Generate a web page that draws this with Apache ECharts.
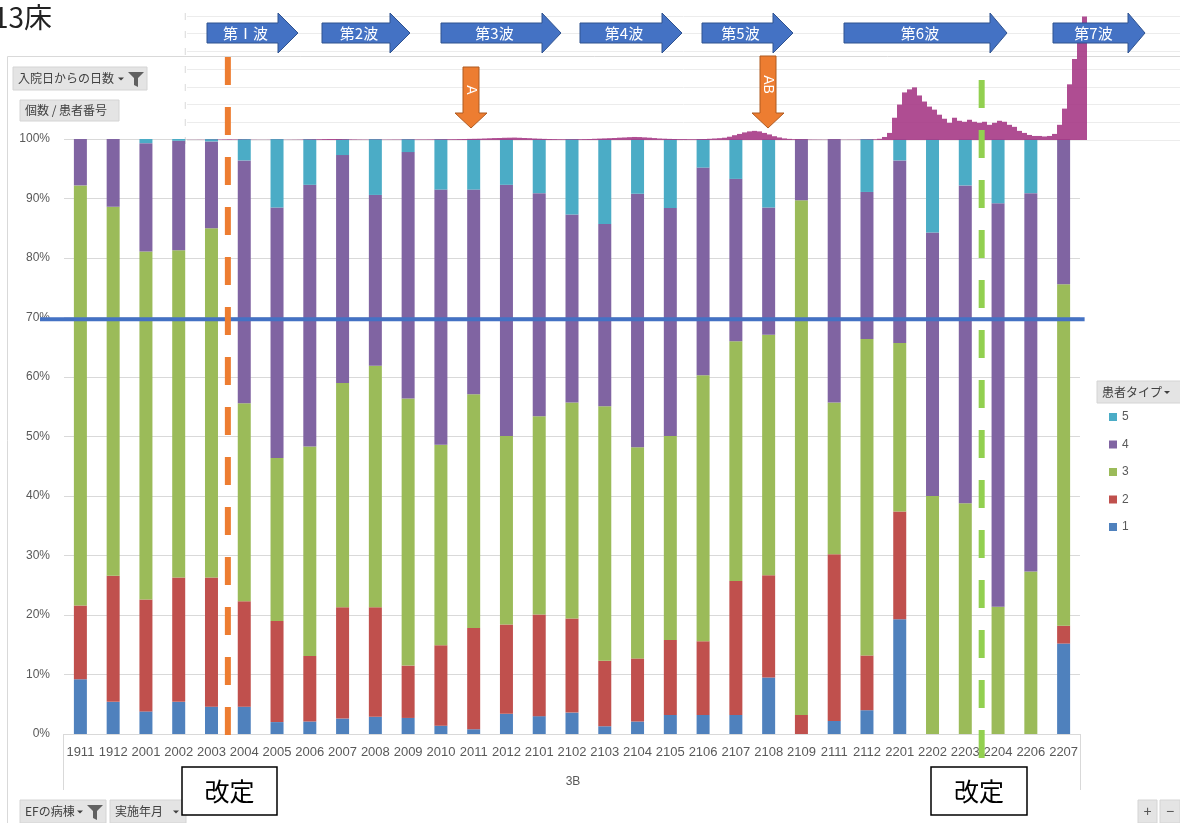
<!DOCTYPE html>
<html>
<head>
<meta charset="utf-8">
<script src="https://cdn.jsdelivr.net/npm/echarts@6/dist/echarts.min.js"></script>
<style>
  html, body { margin: 0; padding: 0; background: #fff; }
  #chart { width: 1180px; height: 823px; }
</style>
</head>
<body>
<div id="chart"></div>
<script>
// Survey months (YYMM) on the 3B ward
const months = ['1911','1912','2001','2002','2003','2004','2005','2006','2007','2008','2009','2010','2011','2012',
  '2101','2102','2103','2104','2105','2106','2107','2108','2109','2111','2112','2201','2202','2203','2204','2206','2207'];

// Share of patients per patient type (%), stacked to 100
const type1 = [9.2,5.4,3.8,5.4,4.6,4.6,2.0,2.1,2.6,2.9,2.7,1.4,0.8,3.4,3.0,3.6,1.3,2.1,3.2,3.2,3.2,9.5,0,2.2,4.0,19.3,0,0,0,0,15.2];
const type2 = [12.4,21.2,18.8,20.9,21.7,17.7,17.0,11.0,18.7,18.4,8.8,13.5,17.0,15.0,17.1,15.8,11.0,10.6,12.6,12.4,22.5,17.2,3.2,28.0,9.2,18.1,0,0,0,0,3.0];
const type3 = [70.6,62.0,58.5,55.0,58.7,33.3,27.4,35.2,37.7,40.6,44.9,33.7,39.3,31.7,33.3,36.3,42.8,35.5,34.3,44.7,40.3,40.4,86.5,25.5,53.2,28.3,40.0,38.8,21.4,27.3,57.4];
const type4 = [7.8,11.4,18.2,18.4,14.6,40.8,42.1,44.0,38.3,28.7,41.4,42.9,34.4,42.2,37.5,31.6,30.6,42.6,38.3,34.9,27.3,21.4,10.3,44.3,24.7,30.7,44.3,53.4,67.8,63.6,24.4];
const type5 = [0,0,0.7,0.3,0.4,3.6,11.5,7.7,2.7,9.4,2.2,8.5,8.5,7.7,9.1,12.7,14.3,9.2,11.6,4.8,6.7,11.5,0,0,8.9,3.6,15.7,7.8,10.8,9.1,0];

const typeNames = ['1','2','3','4','5'];
const legendOrder = ['5','4','3','2','1'];
const yTicks = [0,10,20,30,40,50,60,70,80,90,100];

// Reference line (%)
const thresholdPct = 69.7;

// Newly infected persons per 5-day step (thousands), Jan 2020 - Jul 2022
const infections = [
  0.3,0.3,0.4,0.3,0.4,0.5,
  0.8,1.0,1.2,1.0,0.8,0.6,0.5,
  0.4,0.3,0.3,0.4,0.3,0.4,0.3,0.4,0.5,0.6,0.8,1.0,1.2,
  1.5,1.8,2.0,2.0,1.8,1.5,1.2,1.0,0.8,
  0.7,0.6,0.6,0.7,0.6,0.7,0.8,0.8,0.7,0.8,0.9,1.0,1.0,1.1,1.2,1.3,1.4,1.5,1.6,1.8,2.0,2.2,2.4,
  2.6,3.0,3.4,3.8,4.0,4.4,4.6,4.8,4.4,4.0,3.6,3.0,2.6,2.2,2.0,
  1.8,1.6,1.5,1.4,1.5,1.6,1.8,2.0,2.4,2.8,
  3.2,3.6,4.0,4.6,5.0,5.6,6.0,5.8,5.2,4.6,3.8,3.0,
  2.6,2.2,2.0,1.8,1.8,1.6,1.6,1.8,2.0,2.4,3.0,3.6,
  4.5,6.5,9.5,12,15,17,18,17,14,11,7.5,5,
  3.2,2.2,1.6,1.2,1.0,0.8,0.7,0.6,0.5,0.5,0.5,0.5,0.5,0.6,0.6,0.7,0.8,1.0,1.4,2.4,
  6,14,44,70,94,100,104,88,76,66,60,50,42,34,44,38,36,40,36,34,36,30,34,38,36,30,26,18,14,10,8,8,7,8,12,30,62,110,160,192,244
];

// Wave banners and event markers
const waves = [
  { label: '第Ⅰ波', x0: 207, x1: 278, tip: 298 },
  { label: '第2波', x0: 322, x1: 390, tip: 410 },
  { label: '第3波', x0: 441, x1: 542, tip: 561 },
  { label: '第4波', x0: 580, x1: 662, tip: 682 },
  { label: '第5波', x0: 702, x1: 773, tip: 793 },
  { label: '第6波', x0: 844, x1: 990, tip: 1007 },
  { label: '第7波', x0: 1053, x1: 1128, tip: 1145 }
];
const events = [
  { label: 'A', cx: 471, top: 67 },
  { label: 'AB', cx: 768, top: 56 }
];
// Revisions fall between these category positions
const revisions = [
  { after: 4, color: '#ed7d31', top: 57, bottom: 745 },
  { after: 27, color: '#92d050', top: 80, bottom: 770 }
];

const colors = { '1': '#4f81bd', '2': '#c0504d', '3': '#9bbb59', '4': '#8064a2', '5': '#4bacc6' };
const JP = '"Noto Sans CJK JP", "Noto Sans", sans-serif';
const NUM = '"Liberation Sans", Arial, sans-serif';

const chart = echarts.init(document.getElementById('chart'));

const typeData = [type1, type2, type3, type4, type5];
const barSeries = typeNames.map((name, k) => ({
  name: name,
  type: 'bar',
  stack: 'share',
  xAxisIndex: 0,
  yAxisIndex: 0,
  barWidth: 13,
  data: typeData[k],
  itemStyle: { color: colors[name] },
  z: 2
}));

const infectionSeries = {
  name: 'infections',
  type: 'bar',
  xAxisIndex: 1,
  yAxisIndex: 1,
  barWidth: 5,
  data: infections.map((v, i) => [i, v]),
  itemStyle: { color: '#a63a86', opacity: 0.9 },
  z: 3,
  silent: true
};

function pivotButton(x, y, w, h, text, withArrow, withFunnel) {
  const children = [
    { type: 'rect', shape: { x: 0, y: 0, width: w, height: h },
      style: { fill: '#e4e4e4', stroke: '#d4d4d4', lineWidth: 1 } },
    { type: 'text', x: 5, y: h / 2, style: { text: text, fill: '#404040', font: '12px ' + JP, textVerticalAlign: 'middle', textBaseline: 'middle' } }
  ];
  if (withArrow) {
    const ax = withFunnel ? w - 26 : w - 10;
    children.push({ type: 'polygon', shape: { points: [[ax - 3, h / 2 - 1], [ax + 3, h / 2 - 1], [ax, h / 2 + 2]] }, style: { fill: '#404040' } });
  }
  if (withFunnel) {
    const fx = w - 19;
    children.push({ type: 'polygon', shape: { points: [[fx, 5], [fx + 16, 5], [fx + 10, 11], [fx + 10, h - 3], [fx + 6, h - 5], [fx + 6, 11]] }, style: { fill: '#606060' } });
  }
  return { type: 'group', x: x, y: y, children: children, z: 50 };
}

const staticGraphics = [
  // chart area frame
  { type: 'rect', shape: { x: 7.5, y: 56.5, width: 1250, height: 820 }, style: { fill: 'none', stroke: '#d9d9d9', lineWidth: 1 }, z: 0, silent: true },
  // category frame below the axis
  { type: 'line', shape: { x1: 63.5, y1: 734, x2: 63.5, y2: 790 }, style: { stroke: '#d9d9d9', lineWidth: 1 }, z: 1 },
  { type: 'line', shape: { x1: 1080.5, y1: 734, x2: 1080.5, y2: 790 }, style: { stroke: '#d9d9d9', lineWidth: 1 }, z: 1 },
  { type: 'text', x: 573, y: 782, style: { text: '3B', fill: '#595959', font: '12px ' + NUM, textAlign: 'center', textVerticalAlign: 'middle' }, z: 1 },
  // title
  { type: 'text', x: 52, y: 17, style: { text: '13床', fill: '#222', font: '28px ' + JP, textAlign: 'right', textVerticalAlign: 'middle' }, z: 50 },
  pivotButton(13, 67, 134, 23, '入院日からの日数', true, true),
  pivotButton(20, 100, 99, 21, '個数 / 患者番号', false, false),
  pivotButton(20, 800, 86, 23, 'EFの病棟', true, true),
  pivotButton(110, 800, 76, 23, '実施年月', true, false),
  pivotButton(1097, 381, 90, 22, '患者タイプ', false, false),
  { type: 'polygon', shape: { points: [[1164, 391], [1170, 391], [1167, 394]] }, style: { fill: '#404040' }, z: 51 },
  // zoom buttons
  { type: 'rect', shape: { x: 1138, y: 800, width: 19, height: 23 }, style: { fill: '#e4e4e4', stroke: '#d4d4d4' }, z: 50 },
  { type: 'rect', shape: { x: 1160, y: 800, width: 20, height: 23 }, style: { fill: '#e4e4e4', stroke: '#d4d4d4' }, z: 50 },
  { type: 'text', x: 1147.5, y: 812, style: { text: '+', fill: '#555', font: '14px ' + NUM, textAlign: 'center', textVerticalAlign: 'middle' }, z: 51 },
  { type: 'text', x: 1170, y: 812, style: { text: '−', fill: '#555', font: '14px ' + NUM, textAlign: 'center', textVerticalAlign: 'middle' }, z: 51 },
  // revision boxes
  { type: 'group', x: 182, y: 767, z: 60, children: [
    { type: 'rect', shape: { x: 0, y: 0, width: 95, height: 48 }, style: { fill: '#fff', stroke: '#000', lineWidth: 1.5 } },
    { type: 'text', x: 47.5, y: 24, style: { text: '改定', fill: '#000', font: '25px ' + JP, textAlign: 'center', textVerticalAlign: 'middle' } }
  ] },
  { type: 'group', x: 931, y: 767, z: 60, children: [
    { type: 'rect', shape: { x: 0, y: 0, width: 96, height: 48 }, style: { fill: '#fff', stroke: '#000', lineWidth: 1.5 } },
    { type: 'text', x: 48, y: 24, style: { text: '改定', fill: '#000', font: '25px ' + JP, textAlign: 'center', textVerticalAlign: 'middle' } }
  ] }
];

// wave banners (right-pointing block arrows)
waves.forEach(w => {
  staticGraphics.push({
    type: 'polygon', z: 40,
    shape: { points: [[w.x0, 23], [w.x1, 23], [w.x1, 13], [w.tip, 33], [w.x1, 53], [w.x1, 43], [w.x0, 43]] },
    style: { fill: '#4472c4', stroke: '#2f528f', lineWidth: 1 }
  });
  staticGraphics.push({
    type: 'text', z: 41, x: (w.x0 + w.x1) / 2 + 3, y: 33,
    style: { text: w.label, fill: '#fff', font: '15px ' + JP, textAlign: 'center', textVerticalAlign: 'middle' }
  });
});

// event markers (down-pointing block arrows)
events.forEach(e => {
  const bw = 8, hw = 16, headTop = 113, tip = 128;
  staticGraphics.push({
    type: 'polygon', z: 40,
    shape: { points: [[e.cx - bw, e.top], [e.cx + bw, e.top], [e.cx + bw, headTop], [e.cx + hw, headTop], [e.cx, tip], [e.cx - hw, headTop], [e.cx - bw, headTop]] },
    style: { fill: '#ed7d31', stroke: '#ae5a21', lineWidth: 1 }
  });
  staticGraphics.push({
    type: 'text', z: 41, x: e.cx, y: (e.top + headTop) / 2, rotation: -Math.PI / 2,
    style: { text: e.label, fill: '#fff', font: '14px ' + NUM, textAlign: 'center', textVerticalAlign: 'middle' }
  });
});

const option = {
  animation: false,
  grid: [
    { left: 64, right: 100, top: 139, bottom: 89 },
    { left: 187, right: 0, top: 16, height: 124 }
  ],
  xAxis: [
    { type: 'category', gridIndex: 0, data: months,
      axisLine: { lineStyle: { color: '#d9d9d9' } }, axisTick: { show: false },
      axisLabel: { color: '#595959', fontSize: 13, fontFamily: NUM, margin: 12, interval: 0 } },
    { type: 'value', gridIndex: 1, min: -0.5, max: 198.1, show: false }
  ],
  yAxis: [
    { type: 'value', gridIndex: 0, min: yTicks[0], max: yTicks[yTicks.length - 1], interval: 10,
      axisLabel: { formatter: '{value}%', color: '#595959', fontSize: 12, fontFamily: NUM, margin: 14 },
      splitLine: { lineStyle: { color: '#d9d9d9' } }, axisLine: { show: false }, axisTick: { show: false } },
    { type: 'value', gridIndex: 1, min: 0, max: 245, interval: 35,
      axisLabel: { formatter: () => '|', color: '#c4c4c4', fontSize: 7, margin: 1 },
      splitLine: { lineStyle: { color: '#ececec' } }, axisLine: { show: false }, axisTick: { show: false } }
  ],
  legend: {
    orient: 'vertical', left: 1104, top: 406, itemWidth: 8, itemHeight: 8, itemGap: 15.5,
    icon: 'rect', data: legendOrder, selectedMode: false,
    textStyle: { color: '#595959', fontSize: 12, fontFamily: NUM }
  },
  series: barSeries.concat([infectionSeries]),
  graphic: staticGraphics
};
chart.setOption(option);

// overlays tied to the category/value scales
const overlay = [];
revisions.forEach(r => {
  const a = chart.convertToPixel({ gridIndex: 0 }, [r.after, 0])[0];
  const b = chart.convertToPixel({ gridIndex: 0 }, [r.after + 1, 0])[0];
  const x = (a + b) / 2;
  overlay.push({
    type: 'line', z: 70,
    shape: { x1: x, y1: r.top, x2: x, y2: r.bottom },
    style: { stroke: r.color, lineWidth: 6, lineDash: [28, 22] }
  });
});
const yT = chart.convertToPixel({ gridIndex: 0 }, [0, thresholdPct])[1];
const xEnd = chart.convertToPixel({ gridIndex: 0 }, [months.length - 1, 0])[0] + 21;
overlay.push({
  type: 'line', z: 65,
  shape: { x1: 40, y1: yT, x2: xEnd, y2: yT },
  style: { stroke: '#4472c4', lineWidth: 4 }
});
chart.setOption({ graphic: staticGraphics.concat(overlay) });
</script>
</body>
</html>
